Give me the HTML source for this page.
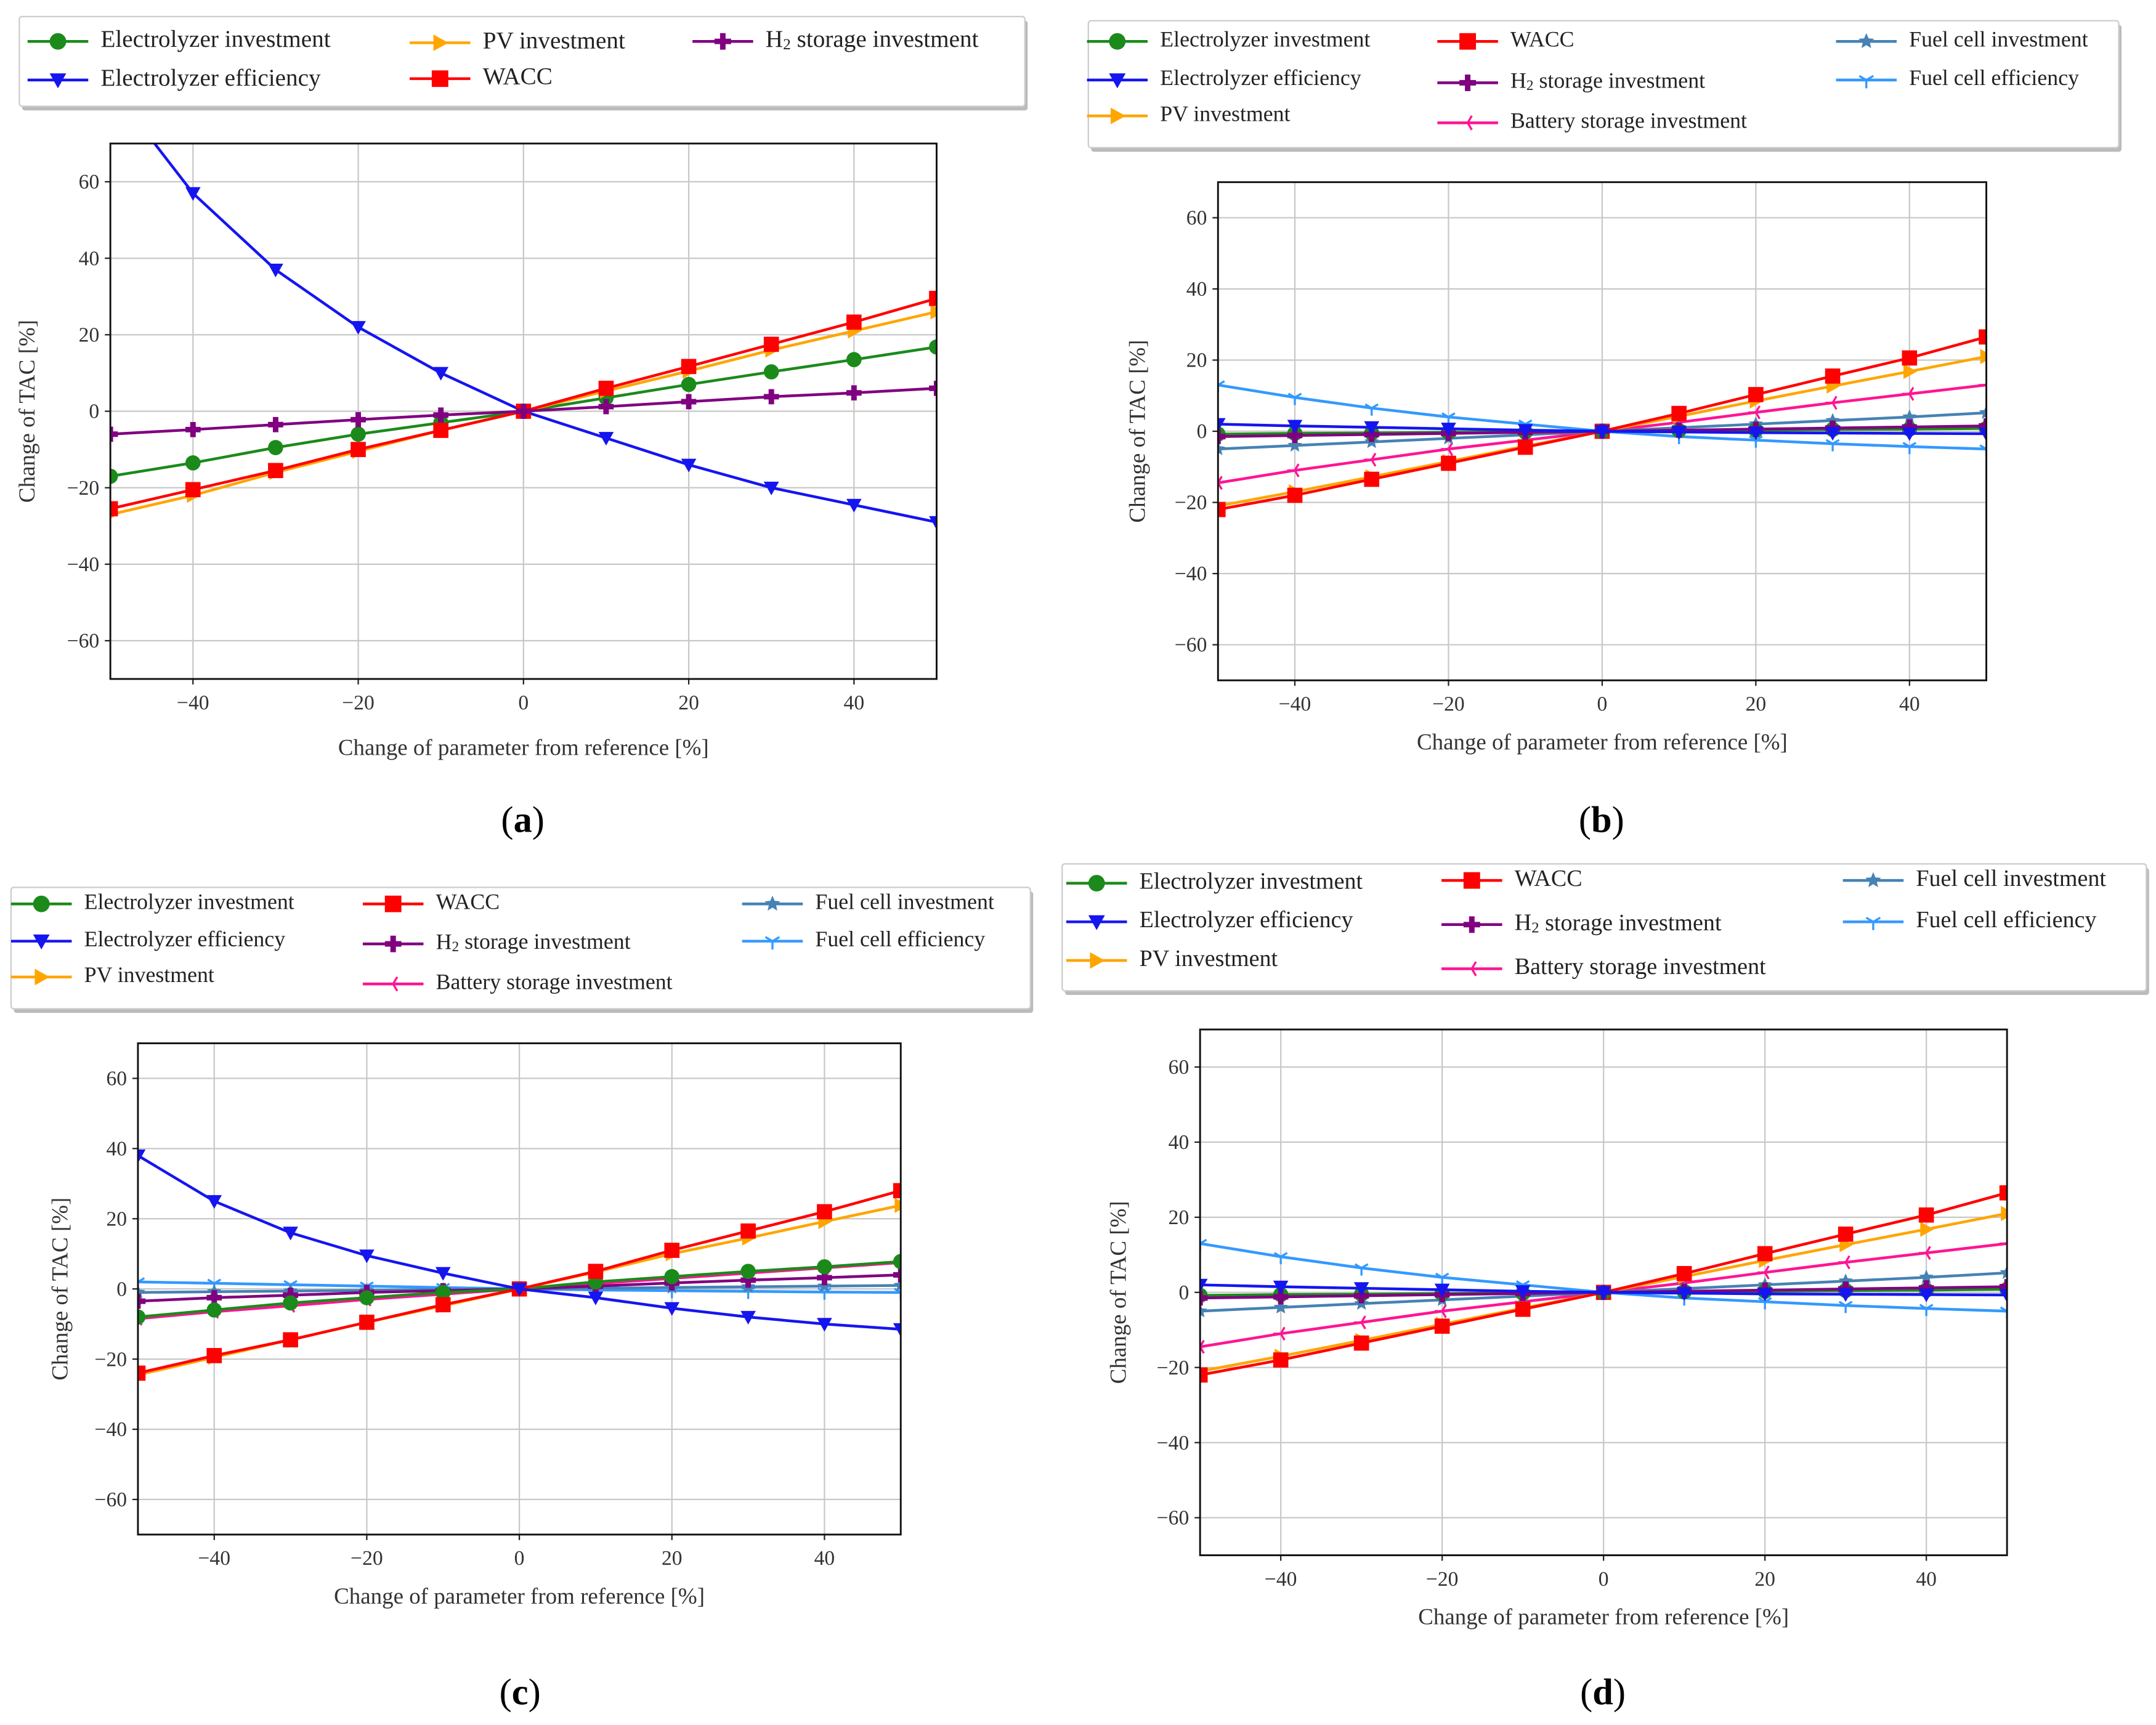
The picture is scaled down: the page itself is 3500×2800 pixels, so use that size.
<!DOCTYPE html>
<html><head><meta charset="utf-8">
<style>
html,body{margin:0;padding:0;background:#fff;}
svg{display:block;font-family:"Liberation Serif",serif;}
</style></head>
<body>
<svg id="fig" width="3500" height="2800" viewBox="0 0 1563 1250" preserveAspectRatio="none" xmlns="http://www.w3.org/2000/svg"></svg>
<script>
const xCats = [-50,-40,-30,-20,-10,0,10,20,30,40,50];
const xTicks = [-40,-20,0,20,40];
const yTicks = [-60,-40,-20,0,20,40,60];
// Panel (a)
const aElecInv = [-17,-13.5,-9.5,-6,-3,0,3.5,7,10.3,13.5,16.8];
const aElecEff = [85,57,37,22,10,0,-7,-14,-20,-24.5,-29];
const aPV = [-27,-22,-16,-10.5,-5,0,5.3,10.5,16,21,26];
const aWACC = [-25.5,-20.5,-15.5,-10,-5,0,6,11.7,17.5,23.3,29.5];
const aH2 = [-6,-4.8,-3.5,-2.2,-1,0,1.2,2.5,3.8,4.8,6];
// Panel (b) and (d)
const bElecInv = [-0.8,-0.6,-0.5,-0.3,-0.2,0,0.2,0.3,0.5,0.6,0.8];
const bElecEff = [2,1.5,1.1,0.7,0.3,0,-0.2,-0.4,-0.5,-0.6,-0.7];
const bPV = [-21,-17,-12.8,-8.5,-4.2,0,4.2,8.5,12.7,16.8,21];
const bWACC = [-22,-18,-13.5,-9,-4.5,0,5,10.3,15.5,20.6,26.5];
const bH2 = [-1.5,-1.2,-0.9,-0.6,-0.3,0,0.3,0.6,0.9,1.2,1.5];
const bBatt = [-14.5,-11,-8,-5,-2.5,0,2.5,5.3,8,10.5,13];
const bFCInv = [-5,-4,-3,-2,-1,0,1,2,3,4,5.2];
const bFCEff = [13,9.5,6.5,4,2,0,-1.5,-2.5,-3.5,-4.3,-5];
// Panel (c)
const cElecInv = [-8,-6,-4,-2.5,-1,0,2,3.5,5,6.3,7.8];
const cElecEff = [38,25,16,9.5,4.5,0,-2.5,-5.5,-8,-10,-11.5];
const cPV = [-24.5,-19.5,-14.5,-9.5,-4.8,0,4.8,10,14.5,19.2,23.8];
const cWACC = [-24,-19,-14.5,-9.5,-4.5,0,5,11,16.5,22,28];
const cH2 = [-3.5,-2.5,-1.8,-1,-0.5,0,0.8,1.7,2.5,3.2,4];
const cBatt = [-8.5,-6.5,-4.8,-3,-1.5,0,1.5,3,4.5,6,7.5];
const cFCInv = [-1,-0.8,-0.6,-0.4,-0.2,0,0.2,0.4,0.6,0.8,1];
const cFCEff = [2,1.6,1.2,0.8,0.4,0,-0.3,-0.5,-0.7,-0.9,-1];

const NS="http://www.w3.org/2000/svg";
const svg=document.getElementById('fig');
function mk(tag,attrs,parent){const e=document.createElementNS(NS,tag);for(const k in attrs)e.setAttribute(k,attrs[k]);(parent||svg).appendChild(e);return e;}

const STY={
 elecInv:{c:'#1b8a1b',m:'circle',label:'Electrolyzer investment'},
 elecEff:{c:'#1515f0',m:'tdown',label:'Electrolyzer efficiency'},
 pv:{c:'#ffa500',m:'tright',label:'PV investment'},
 wacc:{c:'#ff0000',m:'square',label:'WACC'},
 h2:{c:'#800080',m:'plus',label:'H2'},
 batt:{c:'#ff1493',m:'tri',label:'Battery storage investment'},
 fcInv:{c:'#4682b4',m:'star',label:'Fuel cell investment'},
 fcEff:{c:'#3399ff',m:'tri1',label:'Fuel cell efficiency'}
};

function marker(g,type,x,y,c,s){
 s=s||5.5;
 if(type==='circle')mk('circle',{cx:x,cy:y,r:s,fill:c},g);
 else if(type==='square')mk('rect',{x:x-s,y:y-s,width:2*s,height:2*s,fill:c},g);
 else if(type==='tdown')mk('polygon',{points:`${x-s},${y-s*0.8} ${x+s},${y-s*0.8} ${x},${y+s}`,fill:c},g);
 else if(type==='tright')mk('polygon',{points:`${x-s*0.8},${y-s} ${x-s*0.8},${y+s} ${x+s},${y}`,fill:c},g);
 else if(type==='plus')mk('path',{d:`M${x-2},${y-s}h4v${s-2}h${s-2}v4h-${s-2}v${s-2}h-4v-${s-2}h-${s-2}v-4h${s-2}z`,fill:c},g);
 else if(type==='star'){let p=[];for(let i=0;i<10;i++){const r=i%2?s*0.45:s;const a=-Math.PI/2+i*Math.PI/5;p.push((x+r*Math.cos(a)).toFixed(1)+','+(y+r*Math.sin(a)).toFixed(1));}mk('polygon',{points:p.join(' '),fill:c},g);}
 else if(type==='tri1')mk('path',{d:`M${x},${y}v${s}M${x},${y}l${-s*0.85},${-s*0.5}M${x},${y}l${s*0.85},${-s*0.5}`,stroke:c,'stroke-width':1.5,fill:'none'},g);
 else if(type==='tri')mk('path',{d:`M${x},${y}h${-s}M${x},${y}l${s*0.5},${-s*0.85}M${x},${y}l${s*0.5},${s*0.85}`,stroke:c,'stroke-width':1.5,fill:'none'},g);
}

function legendText(g,x,y,label,fs){
 const t=mk('text',{x:x,y:y,'font-size':fs,fill:'#222','dominant-baseline':'middle'},g);
 if(label==='H2'){t.textContent='H';const s=mk('tspan',{'font-size':fs*0.65,dy:3},t);s.textContent='2';const r=mk('tspan',{dy:-3},t);r.textContent=' storage investment';}
 else t.textContent=label;
 return t;
}

function panel(id,P){
 const g=mk('g',{});
 
 
 const sx=v=>P.L+(v+50)/100*(P.R-P.L);
 const sy=v=>P.T+(70-v)/140*(P.B-P.T);
 // legend
 const lg=mk('g',{},g);
 
 
 mk('rect',{x:P.lg[0]+2,y:P.lg[1]+3,width:P.lg[2],height:P.lg[3],fill:'#bbb',rx:2},lg);
 mk('rect',{x:P.lg[0],y:P.lg[1],width:P.lg[2],height:P.lg[3],fill:'#fff',stroke:'#ccc','stroke-width':1,rx:2},lg);
 P.entries.forEach(e=>{
  const st=STY[e[0]];
  const eg=mk('g',{},lg);
  
  
  mk('line',{x1:e[1]-22,x2:e[1]+22,y1:e[2],y2:e[2],stroke:st.c,'stroke-width':2},eg);
  marker(eg,st.m,e[1],e[2],st.c,6);
  legendText(eg,e[1]+31,e[2],st.label,P.lfs);
 });
 // grid
 const cp='clip-'+id;
 const cl=mk('clipPath',{id:cp},g);mk('rect',{x:P.L,y:P.T,width:P.R-P.L,height:P.B-P.T},cl);
 xTicks.forEach(v=>{
  mk('line',{x1:sx(v),x2:sx(v),y1:P.T,y2:P.B,stroke:'#c8c8c8','stroke-width':1},g);
  mk('line',{x1:sx(v),x2:sx(v),y1:P.B,y2:P.B+4,stroke:'#222','stroke-width':1},g);
  const t=mk('text',{x:sx(v),y:P.B+22,'font-size':15,'text-anchor':'middle',fill:'#333'},g);
  t.textContent=(v<0?'\u2212':'')+Math.abs(v);
  
  
 });
 yTicks.forEach(v=>{
  mk('line',{x1:P.L,x2:P.R,y1:sy(v),y2:sy(v),stroke:'#c8c8c8','stroke-width':1},g);
  mk('line',{x1:P.L-4,x2:P.L,y1:sy(v),y2:sy(v),stroke:'#222','stroke-width':1},g);
  const t=mk('text',{x:P.L-8,y:sy(v)+5,'font-size':15,'text-anchor':'end',fill:'#333'},g);
  t.textContent=(v<0?'\u2212':'')+Math.abs(v);
  
  
 });
 // series
 const sg=mk('g',{'clip-path':`url(#${cp})`},g);
 P.series.forEach(s=>{
  const st=STY[s[0]],d=s[1];
  const ser=mk('g',{},sg);
  
  
  mk('polyline',{points:xCats.map((x,i)=>sx(x)+','+sy(d[i])).join(' '),fill:'none',stroke:st.c,'stroke-width':2},ser);
  xCats.forEach((x,i)=>marker(ser,st.m,sx(x),sy(d[i]),st.c,5.5));
 });
 mk('rect',{x:P.L,y:P.T,width:P.R-P.L,height:P.B-P.T,fill:'none',stroke:'#111','stroke-width':1.3},g);
 const xt=mk('text',{x:(P.L+P.R)/2,y:P.xt,'font-size':16.5,'text-anchor':'middle',fill:'#333'},g);
 xt.textContent='Change of parameter from reference [%]';
 
 
 const yc=(P.T+P.B)/2;
 const yt=mk('text',{x:P.yx,y:yc,'font-size':16.5,'text-anchor':'middle',fill:'#333',transform:`rotate(-90 ${P.yx} ${yc})`},g);
 yt.textContent='Change of TAC [%]';
 
 
 const pl=mk('text',{x:P.lab[0],y:P.lab[1],'font-size':27,'text-anchor':'middle',fill:'#000'},g);
 pl.textContent='(';const b=mk('tspan',{'font-weight':'bold'},pl);b.textContent=id;const c2=mk('tspan',{},pl);c2.textContent=')';
 
 
}

panel('a',{L:80,R:679,T:104,B:492,xt:547,yx:25,lab:[379,603],lg:[14,12,729,65],lfs:17.5,
 entries:[['elecInv',42,30],['elecEff',42,58],['pv',319,31],['wacc',319,57],['h2',524,30]],
 series:[['elecInv',aElecInv],['elecEff',aElecEff],['pv',aPV],['wacc',aWACC],['h2',aH2]]});
panel('b',{L:883,R:1440,T:132,B:493,xt:543,yx:830,lab:[1161,603],lg:[789,15,747,92],lfs:16,
 entries:[['elecInv',810,30],['elecEff',810,58],['pv',810,84],['wacc',1064,30],['h2',1064,60],['batt',1064,89],['fcInv',1353,30],['fcEff',1353,58]],
 series:[['fcEff',bFCEff],['batt',bBatt],['fcInv',bFCInv],['pv',bPV],['wacc',bWACC],['elecInv',bElecInv],['h2',bH2],['elecEff',bElecEff]]});
panel('c',{L:100,R:653,T:756,B:1112,xt:1162,yx:49,lab:[377,1235],lg:[8,643,739,88],lfs:16,
 entries:[['elecInv',30,655],['elecEff',30,682],['pv',30,708],['wacc',285,655],['h2',285,684],['batt',285,713],['fcInv',560,655],['fcEff',560,682]],
 series:[['fcEff',cFCEff],['fcInv',cFCInv],['batt',cBatt],['h2',cH2],['elecInv',cElecInv],['pv',cPV],['wacc',cWACC],['elecEff',cElecEff]]});
panel('d',{L:870,R:1455,T:746,B:1127,xt:1177,yx:816,lab:[1162,1235],lg:[770,626,786,92],lfs:17,
 entries:[['elecInv',795,640],['elecEff',795,668],['pv',795,696],['wacc',1067,638],['h2',1067,670],['batt',1067,702],['fcInv',1358,638],['fcEff',1358,668]],
 series:[['fcEff',bFCEff],['batt',bBatt],['fcInv',bFCInv],['pv',bPV],['wacc',bWACC],['elecInv',bElecInv],['h2',bH2],['elecEff',bElecEff]]});
</script>
</body></html>
